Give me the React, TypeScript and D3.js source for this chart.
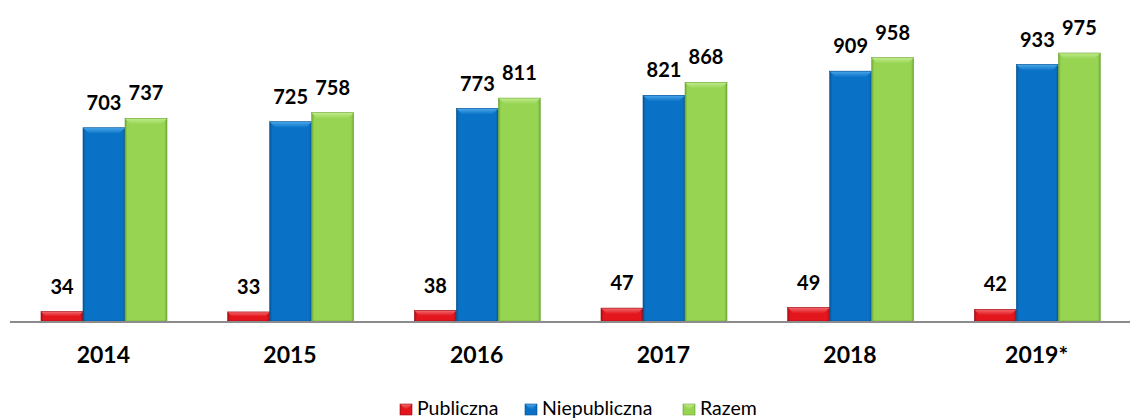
import React from "react";
import { scaleBand, scaleLinear } from "d3";

const width = 1130;
const height = 418;

const years = ["2014", "2015", "2016", "2017", "2018", "2019*"];
const publiczna = [34, 33, 38, 47, 49, 42];
const niepubliczna = [703, 725, 773, 821, 909, 933];
const razem = [737, 758, 811, 868, 958, 975];

const seriesNames = ["Publiczna", "Niepubliczna", "Razem"];
const seriesValues = [publiczna, niepubliczna, razem];

// main, light (top bevel), dark (edges)
const palette = [
  { main: "#e3161e", light: "#f26a6e", dark: "#9c0f14" },
  { main: "#0a72c6", light: "#4aa8ec", dark: "#075493" },
  { main: "#96d452", light: "#c2eb8c", dark: "#6fa838" },
];

const font = "Lato, 'Open Sans', sans-serif";

const Bar = ({ x, y, w, h, i }) => {
  const c = palette[i];
  const bevel = Math.min(6, h / 2);
  return (
    <g>
      <rect x={x} y={y} width={w} height={h} fill={`url(#side${i})`} />
      <polygon
        points={`${x},${y} ${x + w},${y} ${x + w - bevel},${y + bevel} ${x + bevel},${y + bevel}`}
        fill={`url(#top${i})`}
      />
      <rect x={x} y={y} width={w} height={h} fill="none" stroke={c.dark} strokeWidth={0.6} />
    </g>
  );
};

export default function App() {
  const x0 = scaleBand().domain(years).range([10, 1130]);
  // three bars of ~42px, centred in each group
  const x1 = scaleBand().domain(seriesNames).range([31, 31 + 126]);
  const y = scaleLinear().domain([0, 975]).range([321, 53]);

  const legendX = [400, 525, 683];

  return (
    <svg
      width={width}
      height={height}
      style={{ position: "absolute", left: 0, top: 0, background: "#fff" }}
    >
      <defs>
        {palette.map((c, i) => (
          <React.Fragment key={i}>
            <linearGradient id={`side${i}`} x1="0" x2="1" y1="0" y2="0">
              <stop offset="0" stopColor={c.dark} />
              <stop offset="0.06" stopColor={c.main} />
              <stop offset="0.94" stopColor={c.main} />
              <stop offset="1" stopColor={c.dark} />
            </linearGradient>
            <linearGradient id={`top${i}`} x1="0" x2="0" y1="0" y2="1">
              <stop offset="0" stopColor={c.light} />
              <stop offset="1" stopColor={c.main} />
            </linearGradient>
          </React.Fragment>
        ))}
      </defs>

      {/* bars */}
      {years.map((yr, gi) => (
        <g key={yr} transform={`translate(${x0(yr)},0)`}>
          {seriesValues.map((vals, si) => {
            const bx = x1(seriesNames[si]);
            const bw = x1.bandwidth();
            const top = y(vals[gi]);
            return (
              <g key={si}>
                <Bar x={bx} y={top} w={bw} h={y(0) - top} i={si} />
                <text
                  x={bx + bw / 2}
                  y={top - 18}
                  textAnchor="middle"
                  fontFamily={font}
                  fontWeight="bold"
                  fontSize={20}
                  fill="#000"
                >
                  {vals[gi]}
                </text>
              </g>
            );
          })}
        </g>
      ))}

      {/* axis */}
      <line x1={10} x2={1130} y1={y(0) + 1} y2={y(0) + 1} stroke="#8c8c8c" strokeWidth={2} />
      {years.map((yr) => (
        <text
          key={yr}
          x={x0(yr) + x0.bandwidth() / 2}
          y={363}
          textAnchor="middle"
          fontFamily={font}
          fontWeight="bold"
          fontSize={23}
          fill="#000"
        >
          {yr}
        </text>
      ))}

      {/* legend */}
      {seriesNames.map((name, i) => (
        <g key={name} transform={`translate(${legendX[i]},404)`}>
          <Bar x={0} y={0} w={12} h={11} i={i} />
          <text x={17} y={10.5} fontFamily={font} fontSize={19.5} fill="#000">
            {name}
          </text>
        </g>
      ))}
    </svg>
  );
}
